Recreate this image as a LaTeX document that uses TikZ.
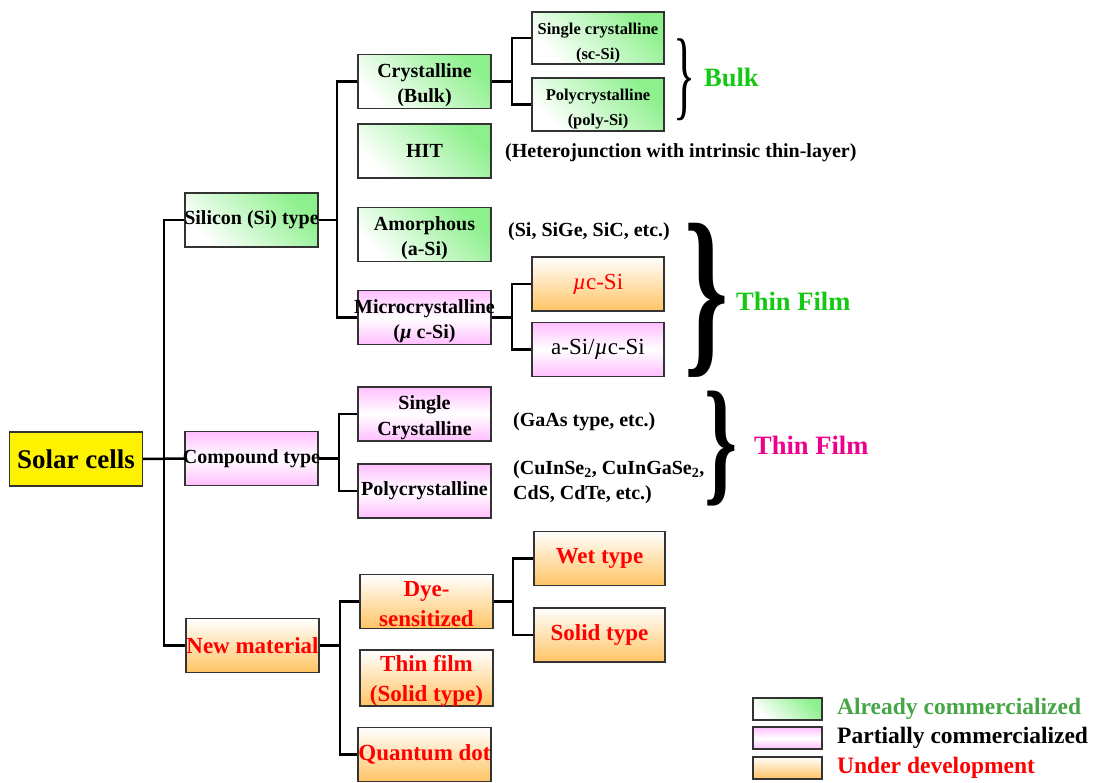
\documentclass[tikz,border=0pt]{standalone}
\usepackage{fontspec}
\setmainfont{Liberation Serif}
\usepackage[dvipsnames]{xcolor}
\usepackage{graphicx}
\usepackage{tikz}

\definecolor{leaf}{RGB}{140,240,140}
\definecolor{blush}{RGB}{255,190,255}
\definecolor{amber}{RGB}{255,196,100}
\definecolor{bulkgreen}{RGB}{20,200,20}
\definecolor{legendgreen}{RGB}{70,165,70}
\newcommand{\spill}[1]{\makebox[0pt]{#1}}
\newcommand{\dropline}{\rule{0pt}{21pt}}

\begin{document}
\begin{tikzpicture}[x=1pt,y=-1pt,
  box/.style={draw=black!80,line width=1.4pt,minimum width=133pt,minimum height=54pt,
    inner sep=0pt,align=center,font=\bfseries\fontsize{20}{25.5}\selectfont},
  done/.style={box,top color=leaf,bottom color=white,shading angle=-45},
  part/.style={box,top color=blush,bottom color=blush,middle color=white},
  todo/.style={box,top color=white,bottom color=amber,text=red,
    font=\bfseries\fontsize{23}{30}\selectfont},
  link/.style={line width=2.5pt},
  note/.style={anchor=west,inner sep=0pt,font=\bfseries\fontsize{20}{25}\selectfont},
  label/.style={anchor=west,inner sep=0pt,font=\bfseries\fontsize{26.5}{30}\selectfont}]
\useasboundingbox (0,0) rectangle (1101,783);

\node[box,fill=yellow,font=\bfseries\fontsize{27}{30}\selectfont] (solar) at (76,459) {Solar cells};

\node[done] (silicon) at (251.5,220) {\spill{Silicon (Si) type}};
\node[part] (compound) at (251.5,458.5) {\spill{Compound type}};
\node[todo] (newmat) at (252.5,645.5) {\spill{New material}};

\node[done] (crystal) at (424.5,81.5) {\dropline Crystalline\\(Bulk)};
\node[done] (hit) at (424.5,151) {HIT};
\node[done] (amorph) at (424.5,234.5) {\dropline Amorphous\\(a-Si)};
\node[part] (micro) at (424.5,317.5) {\dropline\spill{Microcrystalline}\\(\textit{µ} c-Si)};
\node[part] (csingle) at (424.5,414) {\dropline Single\\Crystalline};
\node[part] (cpoly) at (424.5,491) {Polycrystalline};
\node[todo] (dye) at (426.5,601.5) {\dropline Dye-\\sensitized};
\node[todo] (thinfilm) at (426.5,678) {\dropline Thin film\\(Solid type)};
\node[todo] (qdot) at (424.5,754.5) {\spill{Quantum dot}};

\node[done,minimum width=132pt,minimum height=52pt,font=\bfseries\fontsize{16.5}{25}\selectfont] (scsi) at (598,38) {\dropline Single crystalline\\(sc-Si)};
\node[done,minimum width=132pt,minimum height=53pt,font=\bfseries\fontsize{16.5}{25}\selectfont] (polysi) at (598,104.5) {\dropline Polycrystalline\\(poly-Si)};
\node[todo,minimum width=132pt,font=\fontsize{23}{28}\selectfont] (muc) at (598,284) {\textit{µ}c-Si};
\node[part,minimum width=132pt,font=\fontsize{23}{28}\selectfont] (amuc) at (598,349.5) {a-Si/\textit{µ}c-Si};
\node[todo,minimum width=131pt] (wet) at (599.5,558.5) {Wet type};
\node[todo,minimum width=131pt] (solid) at (599.5,635) {Solid type};

% side notes
\node[note] (hetero) at (505,153) {(Heterojunction with intrinsic thin-layer)};
\node[note] (sige) at (508,232) {(Si, SiGe, SiC, etc.)};
\node[note] (gaas) at (513,422) {(GaAs type, etc.)};
\node[note,align=left] (cigs) at (513,482.5) {(CuInSe\textsubscript{2}, CuInGaSe\textsubscript{2},\\CdS, CdTe, etc.)};

% braces
\node[inner sep=0pt] (bulkbrace) at (684,80) {\resizebox*{22pt}{82pt}{\}}};
\node[inner sep=0pt,font=\bfseries] (sibrace) at (706.5,300.5) {\resizebox*{44pt}{154pt}{\}}};
\node[inner sep=0pt,font=\bfseries] (cbrace) at (721,448.5) {\resizebox*{33pt}{115pt}{\}}};
\node[label,text=bulkgreen] (bulk) at (704,77) {Bulk};
\node[label,text=bulkgreen] (sifilm) at (736,301) {Thin Film};
\node[label,text=magenta] (cfilm) at (754,445) {Thin Film};

% legend
\node[done,minimum width=69pt,minimum height=22pt,line width=2pt] (lgdone) at (787.5,709) {};
\node[part,minimum width=69pt,minimum height=22pt,line width=2pt] (lgpart) at (787.5,738) {};
\node[todo,minimum width=69pt,minimum height=22pt,line width=2pt] (lgtodo) at (787.5,767.5) {};
\node[note,text=legendgreen,font=\bfseries\fontsize{23.5}{25}\selectfont] (txdone) at (837,709) {Already commercialized};
\node[note,text=black,font=\bfseries\fontsize{23.5}{25}\selectfont] (txpart) at (837,738) {Partially commercialized};
\node[note,text=red,font=\bfseries\fontsize{23.5}{25}\selectfont] (txtodo) at (837,767.5) {Under development};

% connectors
\coordinate (trunk) at (164,0);
\coordinate (sijoin) at (337,0);
\coordinate (cojoin) at (339,0);
\coordinate (nwjoin) at (340,0);
\coordinate (crjoin) at (512,0);
\coordinate (dyjoin) at (513,0);

\draw[link] (solar.east) -- (compound.west);
\draw[link] (silicon.west) -| (trunk |- newmat.west) -- (newmat.west);

\draw[link] (silicon.east) -- (sijoin |- silicon.east);
\draw[link] (crystal.west) -| (sijoin |- micro.west) -- (micro.west);
\draw[link] (compound.east) -- (cojoin |- compound.east);
\draw[link] (csingle.west) -| (cojoin |- cpoly.west) -- (cpoly.west);
\draw[link] (newmat.east) -- (nwjoin |- newmat.east);
\draw[link] (dye.west) -| (nwjoin |- qdot.west) -- (qdot.west);

\draw[link] (crystal.east) -- (crjoin |- crystal.east);
\draw[link] (scsi.west) -| (crjoin |- polysi.west) -- (polysi.west);
\draw[link] (micro.east) -- (crjoin |- micro.east);
\draw[link] (muc.west) -| (crjoin |- amuc.west) -- (amuc.west);
\draw[link] (dye.east) -- (dyjoin |- dye.east);
\draw[link] (wet.west) -| (dyjoin |- solid.west) -- (solid.west);

\end{tikzpicture}
\end{document}
